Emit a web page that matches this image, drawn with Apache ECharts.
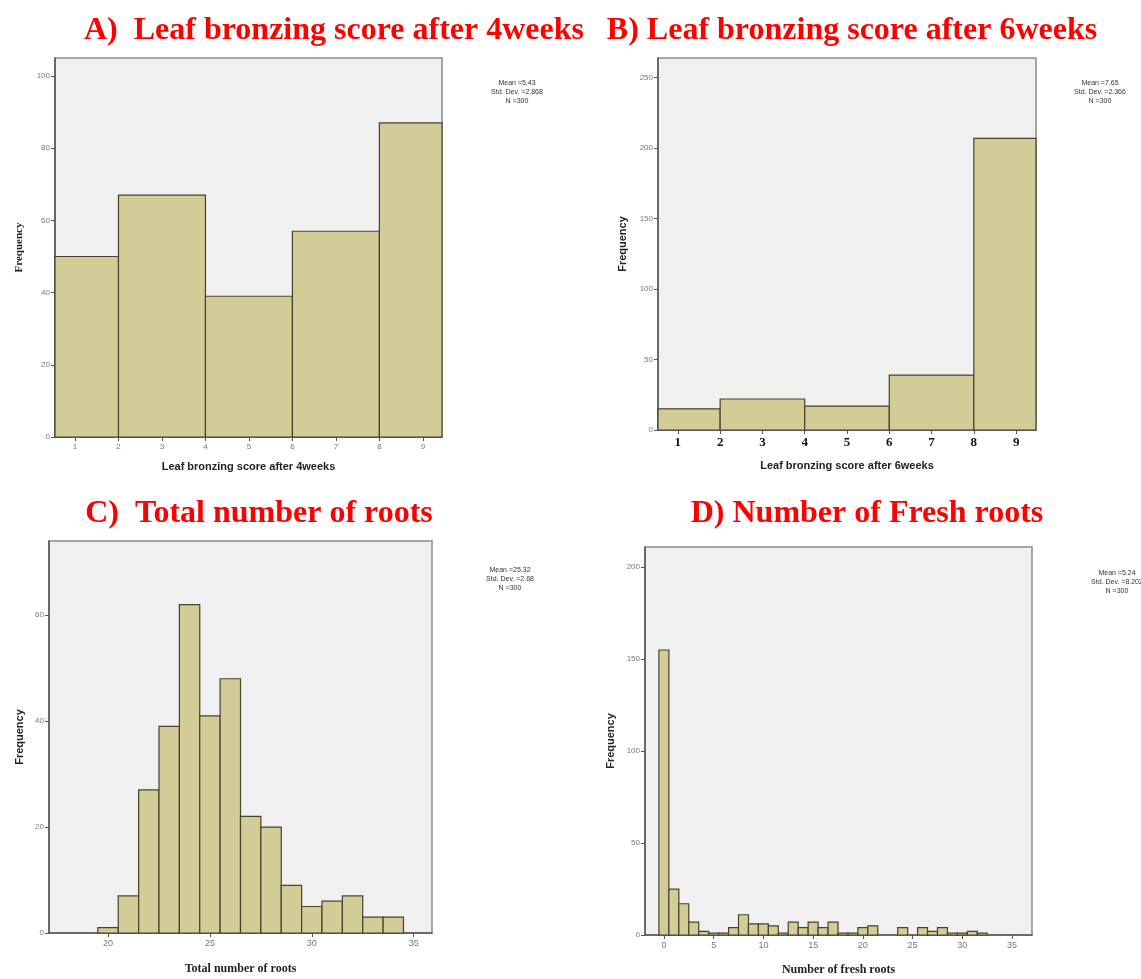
<!DOCTYPE html>
<html>
<head>
<meta charset="utf-8">
<script src="https://cdn.jsdelivr.net/npm/echarts@6/dist/echarts.min.js"></script>
<style>
html,body{margin:0;padding:0;background:#fff;}
#chart{width:1141px;height:979px;}
</style>
</head>
<body>
<div id="chart"></div>
<script>
// ---- Data ----
// A) Leaf bronzing score after 4 weeks: bins of width 2
const aEdges = [0, 2, 4, 6, 8, 10];
const aCounts = [50, 67, 39, 57, 87];
const aTicks = [1, 2, 3, 4, 5, 6, 7, 8, 9];
const aYTicks = [0, 20, 40, 60, 80, 100];
const aStats = ['Mean =5.43', 'Std. Dev. =2.868', 'N =300'];

// B) Leaf bronzing score after 6 weeks
const bEdges = [0, 2, 4, 6, 8, 10];
const bCounts = [15, 22, 17, 39, 207];
const bTicks = [1, 2, 3, 4, 5, 6, 7, 8, 9];
const bYTicks = [0, 50, 100, 150, 200, 250];
const bStats = ['Mean =7.65', 'Std. Dev. =2.366', 'N =300'];

// C) Total number of roots (bins of width 1 centred on integers)
const cCenters = [20, 21, 22, 23, 24, 25, 26, 27, 28, 29, 30, 31, 32, 33, 34];
const cCounts = [1, 7, 27, 39, 62, 41, 48, 22, 20, 9, 5, 6, 7, 3, 3];
const cTicks = [20, 25, 30, 35];
const cYTicks = [0, 20, 40, 60];
const cStats = ['Mean =25.32', 'Std. Dev. =2.68', 'N =300'];

// D) Number of fresh roots
const dCenters = [0,1,2,3,4,5,6,7,8,9,10,11,12,13,14,15,16,17,18,19,20,21,22,23,24,25,26,27,28,29,30,31,32];
const dCounts = [155,25,17,7,2,1,1,4,11,6,6,5,1,7,4,7,4,7,1,1,4,5,0,0,4,0,4,2,4,1,1,2,1];
const dTicks = [0, 5, 10, 15, 20, 25, 30, 35];
const dYTicks = [0, 50, 100, 150, 200];
const dStats = ['Mean =5.24', 'Std. Dev. =8.202', 'N =300'];

const titles = [
  'A)  Leaf bronzing score after 4weeks',
  'B) Leaf bronzing score after 6weeks',
  'C)  Total number of roots',
  'D) Number of Fresh roots'
];
const xNames = [
  'Leaf bronzing score after 4weeks',
  'Leaf bronzing score after 6weeks',
  'Total number of roots',
  'Number of fresh roots'
];

// ---- Build ----
function edgesData(edges, counts) {
  return counts.map((c, i) => [edges[i], edges[i + 1], c]);
}
function centersData(centers, counts) {
  return counts.map((c, i) => [centers[i] - 0.5, centers[i] + 0.5, c]);
}

const barFill = '#d3cc96';
const barLine = '#45422e';

function renderBar(params, api) {
  const x0 = api.value(0), x1 = api.value(1), v = api.value(2);
  if (!v) return null;
  const p0 = api.coord([x0, v]);
  const p1 = api.coord([x1, 0]);
  const cs = params.coordSys;
  const left = Math.max(p0[0], cs.x);
  const right = Math.min(p1[0], cs.x + cs.width);
  return {
    type: 'rect',
    shape: { x: left, y: p0[1], width: right - left, height: p1[1] - p0[1] },
    style: { fill: barFill, stroke: barLine, lineWidth: 1.2 }
  };
}

const grids = [
  { left: 55, top: 58, width: 387, height: 379 },
  { left: 658, top: 58, width: 378, height: 372 },
  { left: 49, top: 541, width: 383, height: 392 },
  { left: 645, top: 547, width: 387, height: 388 }
].map(g => Object.assign(g, {
  show: true, backgroundColor: '#f0f0f0', borderColor: '#8a8a8a', borderWidth: 1.5
}));

const xRanges = [[0.54, 9.44], [0.53, 9.47], [17.1, 35.9], [-1.9, 37]];
const yMax = [105, 264, 74, 211];
const xTickArr = [aTicks, bTicks, cTicks, dTicks];
const yTickArr = [aYTicks, bYTicks, cYTicks, dYTicks];
const xLabelStyles = [
  { fontSize: 8, color: '#777', fontFamily: 'Liberation Sans', margin: 6 },
  { fontSize: 13, color: '#111', fontWeight: 'bold', fontFamily: 'Liberation Serif', margin: 6 },
  { fontSize: 9, color: '#777', fontFamily: 'Liberation Sans', margin: 6 },
  { fontSize: 9, color: '#777', fontFamily: 'Liberation Sans', margin: 6 }
];
const xNameStyles = [
  { fontSize: 11, fontWeight: 'bold', color: '#222', fontFamily: 'Liberation Sans' },
  { fontSize: 11, fontWeight: 'bold', color: '#222', fontFamily: 'Liberation Sans' },
  { fontSize: 12, fontWeight: 'bold', color: '#222', fontFamily: 'Liberation Serif' },
  { fontSize: 12, fontWeight: 'bold', color: '#222', fontFamily: 'Liberation Serif' }
];
const xNameGaps = [24, 30, 30, 29];
const yNameGaps = [30, 30, 24, 29];
const yNameFonts = ['Liberation Serif', 'Liberation Sans', 'Liberation Sans', 'Liberation Sans'];

const xAxes = [0, 1, 2, 3].map(i => ({
  type: 'value', gridIndex: i, min: xRanges[i][0], max: xRanges[i][1],
  name: xNames[i], nameLocation: 'middle', nameGap: xNameGaps[i], nameTextStyle: xNameStyles[i],
  splitLine: { show: false },
  axisLine: { onZero: false, lineStyle: { color: '#555', width: 1.5 } },
  axisTick: { show: true, length: 4, lineStyle: { color: '#555' }, customValues: xTickArr[i] },
  axisLabel: Object.assign({ customValues: xTickArr[i] }, xLabelStyles[i])
}));
const yAxes = [0, 1, 2, 3].map(i => ({
  type: 'value', gridIndex: i, min: 0, max: yMax[i],
  name: 'Frequency', nameLocation: 'middle', nameGap: yNameGaps[i], nameRotate: 90,
  nameTextStyle: { fontSize: 11, fontWeight: 'bold', color: '#222', fontFamily: yNameFonts[i] },
  splitLine: { show: false },
  axisLine: { show: true, onZero: false, lineStyle: { color: '#555', width: 1.5 } },
  axisTick: { show: true, length: 4, lineStyle: { color: '#555' }, customValues: yTickArr[i] },
  axisLabel: { customValues: yTickArr[i], fontSize: 8, color: '#777', fontFamily: 'Liberation Sans', margin: 5 }
}));

const seriesData = [
  edgesData(aEdges, aCounts),
  edgesData(bEdges, bCounts),
  centersData(cCenters, cCounts),
  centersData(dCenters, dCounts)
];
const series = seriesData.map((d, i) => ({
  type: 'custom', xAxisIndex: i, yAxisIndex: i, data: d,
  renderItem: renderBar, silent: true,
  encode: { x: [0, 1], y: 2 }
}));

const titlePos = [
  { left: 329, top: 10 },
  { left: 847, top: 10 },
  { left: 254, top: 493 },
  { left: 862, top: 493 }
];
const titleComps = titles.map((t, i) => ({
  text: t, left: titlePos[i].left, top: titlePos[i].top, textAlign: 'center',
  textStyle: { color: '#ff0000', fontSize: 32, fontWeight: 'bold', fontFamily: 'Liberation Serif' }
}));
const statsAll = [aStats, bStats, cStats, dStats];
const statsPos = [
  { left: 512, top: 74 },
  { left: 1095, top: 74 },
  { left: 505, top: 561 },
  { left: 1112, top: 564 }
];
const statComps = statsAll.map((s, i) => ({
  text: s.join('\n'), left: statsPos[i].left, top: statsPos[i].top, textAlign: 'center',
  textStyle: { color: '#333', fontSize: 7, fontWeight: 'normal', fontFamily: 'Liberation Sans', lineHeight: 9 }
}));

const chart = echarts.init(document.getElementById('chart'));
chart.setOption({
  animation: false,
  backgroundColor: '#ffffff',
  title: titleComps.concat(statComps),
  grid: grids,
  xAxis: xAxes,
  yAxis: yAxes,
  series: series
});
</script>
</body>
</html>
